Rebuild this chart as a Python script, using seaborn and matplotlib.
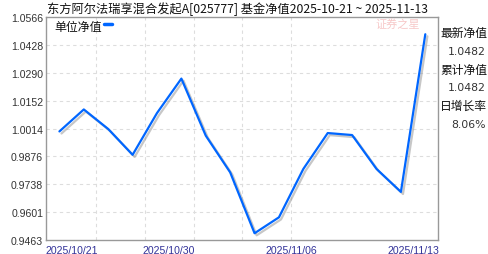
import numpy as np
import pandas as pd
import matplotlib
matplotlib.use("Agg")
import matplotlib.pyplot as plt
import matplotlib.patheffects as pe
import seaborn as sns

# ---- data ----
dates = ["2025/10/21", "2025/10/24", "2025/10/27", "2025/10/28", "2025/10/29",
         "2025/10/30", "2025/10/31", "2025/11/03", "2025/11/04", "2025/11/05",
         "2025/11/06", "2025/11/07", "2025/11/10", "2025/11/11", "2025/11/12",
         "2025/11/13"]
nav = [1.0000, 1.0109, 1.0012, 0.9884, 1.0091, 1.0262, 0.9979, 0.9797,
       0.9495, 0.9574, 0.9814, 0.9992, 0.9982, 0.9814, 0.9700, 1.0482]
ytick_labels = ["0.9463", "0.9601", "0.9738", "0.9876", "1.0014",
                "1.0152", "1.0290", "1.0428", "1.0566"]
xlabel_dates = ["2025/10/21", "2025/10/30", "2025/11/06", "2025/11/13"]
title = "东方阿尔法瑞享混合发起A[025777] 基金净值2025-10-21 ~ 2025-11-13"
legend_label = "单位净值"
side_labels = ["最新净值", "1.0482", "累计净值", "1.0482", "日增长率", "8.06%"]

df = pd.DataFrame({"idx": np.arange(len(dates)), "nav": nav, "date": dates})

sns.set_style("white")
plt.rcParams["font.family"] = ["Liberation Sans", "Noto Sans CJK SC", "DejaVu Sans"]
cjk = ["Noto Sans CJK SC", "DejaVu Sans"]

fig = plt.figure(figsize=(4.88, 2.55), dpi=100)
W, H = 488, 255
left, right, top, bottom = 46, 437.5, 18.3, 240.7
ax = fig.add_axes([left / W, 1 - bottom / H, (right - left) / W, (bottom - top) / H])

line_color = "#0066ff"
sns.lineplot(data=df, x="idx", y="nav", ax=ax, color=line_color, linewidth=1.6,
             path_effects=[pe.SimpleLineShadow(offset=(1.5, -1.5), shadow_color="#999999", alpha=0.55),
                           pe.Normal()])

yvals = [float(v) for v in ytick_labels]
ax.set_ylim(yvals[0], yvals[-1])
x0, x1 = -0.55, 15.5
ax.set_xlim(x0, x1)

ax.set_yticks(yvals)
ax.set_yticklabels(ytick_labels, fontsize=7.6, color="#333333")
for yv in yvals[1:-1]:
    ax.axhline(yv, color="#dddddd", linestyle=(0, (3, 3)), linewidth=0.8, zorder=0)
for xv in [1.5, 3.5, 5.5, 7.5, 9.5]:
    ax.axvline(xv, color="#dddddd", linestyle=(0, (3, 3)), linewidth=0.8, zorder=0)

xt = [x0] + [dates.index(d) - 0.5 for d in xlabel_dates[1:]]
ax.set_xticks(xt)
ax.set_xticklabels(xlabel_dates, fontsize=7.6, color="#333399")
ax.get_xticklabels()[0].set_ha("left")
ax.tick_params(axis="both", length=0)
ax.tick_params(axis="x", pad=4)
ax.tick_params(axis="y", pad=2)
ax.set_xlabel("")
ax.set_ylabel("")
for s in ax.spines.values():
    s.set_color("#999999")
    s.set_linewidth(1.0)

# title
fig.text(47 / W, 1 - 9 / H, title, fontsize=8.8, family=cjk, color="#111111",
         ha="left", va="center")

# legend
ax.text(54 / W, 1 - 28 / H, legend_label, transform=fig.transFigure, fontsize=8.6,
        family=cjk, color="#111111", ha="left", va="center")
fig.add_artist(plt.Line2D([104 / W, 112 / W], [1 - 25 / H, 1 - 25 / H], color=line_color,
                          linewidth=2.5, transform=fig.transFigure))

# watermark
fig.text(398 / W, 1 - 24 / H, "证券之星", fontsize=8, family=cjk, color="#f7c8c8",
         ha="center", va="center", style="italic")

# side panel
ys = [33, 52, 70, 88, 106, 125]
for i, (t, yy) in enumerate(zip(side_labels, ys)):
    if i % 2 == 0:
        fig.text(440 / W, 1 - yy / H, t, fontsize=8.5, family=cjk, color="#111111",
                 ha="left", va="center")
    else:
        fig.text(486 / W, 1 - yy / H, t, fontsize=7.8, family=["DejaVu Sans"], color="#333333",
                 ha="right", va="center")

fig.savefig("out.png", dpi=100)
